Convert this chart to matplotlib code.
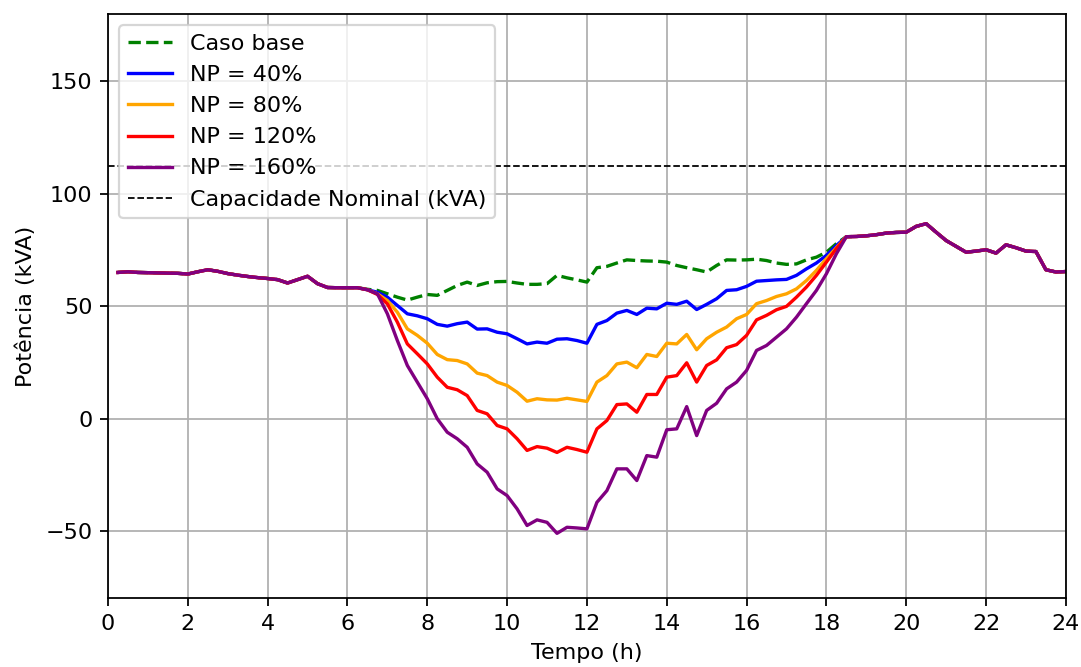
import numpy as np
import matplotlib
matplotlib.use("Agg")
import matplotlib.pyplot as plt

# time axis, 15-minute steps
tempo = np.arange(1, 97) * 0.25

# shared part of the profile (0.25h .. 6.25h and 18.5h .. 24h)
manha = [65.0, 65.3, 65.0, 64.9, 64.8, 64.7, 64.6, 64.3, 65.3, 66.2, 65.5, 64.5,
         63.8, 63.2, 62.7, 62.3, 61.8, 60.3, 61.8, 63.3, 60.0, 58.3, 58.2, 58.2,
         58.2]
noite = [80.9, 81.0, 81.3, 81.8, 82.5, 82.8, 82.9, 85.5, 86.7, 82.9, 79.2, 76.6,
         74.0, 74.5, 75.1, 73.6, 77.3, 76.0, 74.5, 74.3, 66.2, 65.2, 65.4]

# 6.5h .. 18.25h (48 points) for each scenario
base_dia = [57.5, 57.0, 55.5, 54.0, 52.7, 54.0, 55.2, 54.8, 57.0, 59.2, 60.7, 59.2,
            60.4, 60.9, 61.0, 60.3, 59.7, 59.7, 60.0, 63.7, 62.6, 61.7, 60.7, 67.1,
            67.7, 69.2, 70.6, 70.3, 70.1, 70.0, 69.6, 68.1, 67.1, 66.2, 65.2, 68.1,
            70.6, 70.5, 70.6, 70.9, 70.3, 69.2, 68.6, 68.8, 70.6, 71.8, 74.0, 77.8]
np40_dia = [57.3, 56.2, 54.0, 50.3, 46.6, 45.7, 44.4, 41.9, 41.1, 42.2, 42.9, 39.8,
            39.9, 38.4, 37.7, 35.5, 33.2, 34.0, 33.5, 35.3, 35.5, 34.7, 33.5, 41.9,
            43.6, 46.9, 48.1, 46.3, 49.1, 48.8, 51.3, 50.8, 52.2, 48.5, 50.8, 53.3,
            57.0, 57.3, 58.8, 61.1, 61.4, 61.7, 61.9, 63.7, 66.6, 69.2, 72.6, 77.0]
np80_dia = [57.3, 55.5, 52.5, 47.3, 39.9, 37.0, 33.5, 28.5, 26.2, 25.8, 24.3, 20.2,
            19.1, 16.2, 14.7, 11.7, 7.7, 8.8, 8.3, 8.2, 9.0, 8.3, 7.6, 16.2,
            19.1, 24.3, 25.1, 22.6, 28.5, 27.6, 33.5, 33.2, 37.4, 30.6, 35.5, 38.4,
            40.7, 44.4, 46.3, 51.1, 52.5, 54.3, 55.5, 57.7, 61.4, 65.9, 71.1, 76.0]
np120_dia = [57.3, 55.2, 51.0, 42.9, 33.2, 28.8, 24.3, 18.4, 13.9, 12.8, 10.2, 3.6,
             2.1, -3.1, -4.6, -9.0, -14.2, -12.5, -13.2, -15.1, -12.8, -13.8, -15.0, -4.6,
             -0.9, 6.2, 6.5, 2.8, 10.7, 10.7, 18.4, 19.1, 24.8, 16.2, 23.6, 26.1,
             31.5, 32.9, 37.0, 43.9, 45.9, 48.4, 49.9, 54.0, 58.5, 63.7, 69.6, 75.6]
np160_dia = [57.3, 55.5, 46.6, 34.7, 23.6, 16.2, 8.8, -0.1, -6.1, -9.0, -12.8, -20.2,
             -23.9, -31.3, -34.3, -40.2, -47.6, -45.1, -46.2, -51.1, -48.4, -48.7, -49.1, -37.3,
             -32.1, -22.4, -22.4, -27.6, -16.5, -17.2, -5.0, -4.6, 5.3, -7.6, 3.6, 6.8,
             13.2, 16.2, 21.4, 30.3, 32.5, 36.2, 39.9, 45.1, 51.1, 57.0, 64.4, 73.3]

capacidade = 112.5

rotulos = ["NP = 40%", "NP = 80%", "NP = 120%", "NP = 160%"]
cores = ["blue", "orange", "red", "purple"]

fig, ax = plt.subplots(figsize=(1081 / 160, 667 / 160), dpi=160)
fig.subplots_adjust(left=0.0999, right=0.986, top=0.979, bottom=0.103)

ax.plot(tempo, manha + base_dia + noite, color="green", linestyle="--",
        label="Caso base")
for dia, cor, rot in zip([np40_dia, np80_dia, np120_dia, np160_dia], cores, rotulos):
    ax.plot(tempo, manha + dia + noite, color=cor, label=rot)

ax.axhline(capacidade, color="black", linestyle="--", linewidth=0.8,
           label="Capacidade Nominal (kVA)")

ax.set_xlim(0, 24)
ax.set_ylim(-80, 180)
ax.set_xticks(range(0, 25, 2))
ax.set_yticks([-50, 0, 50, 100, 150])
ax.set_xlabel("Tempo (h)")
ax.set_ylabel("Potência (kVA)")
ax.grid(True)
ax.legend(loc="upper left")

fig.savefig("out.png", dpi=160)
